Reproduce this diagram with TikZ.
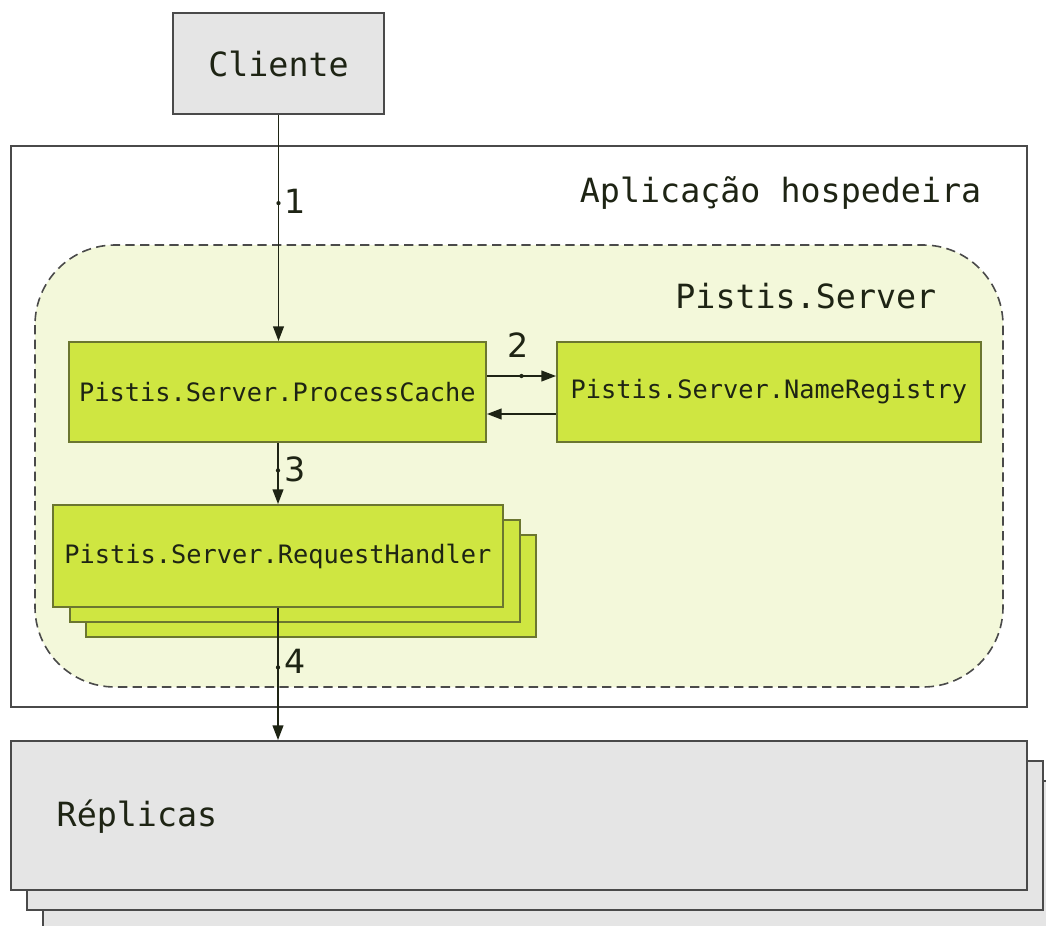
\documentclass[tikz,border=0pt]{standalone}
\usepackage{fontspec}
\setmainfont{DejaVu Sans}
\setmonofont{DejaVu Sans Mono}
\usetikzlibrary{arrows.meta,calc}
\definecolor{boxgray}{HTML}{E5E5E5}
\definecolor{edgegray}{HTML}{4A4A4A}
\definecolor{limefill}{HTML}{CFE641}
\definecolor{limeedge}{HTML}{6B7630}
\definecolor{paleback}{HTML}{F3F8DA}
\definecolor{ink}{HTML}{1E2414}
\tikzset{
  graybox/.style={draw=edgegray, line width=1.4pt, fill=boxgray, inner sep=0pt},
  limebox/.style={draw=limeedge, line width=1.4pt, fill=limefill, inner sep=0pt,
    font=\ttfamily\fontsize{19}{22}\selectfont, text=ink},
  bigtext/.style={font=\ttfamily\fontsize{25}{28}\selectfont, text=ink},
  flow/.style={draw=ink, line width=1.4pt, -{Triangle[length=11pt,width=8pt]}},
  steplabel/.style={font=\fontsize{25}{28}\selectfont, text=ink, anchor=west, inner sep=0pt},
  flowdot/.style={fill=ink, circle, inner sep=0pt, minimum size=3.2pt}
}
\begin{document}
\begin{tikzpicture}[x=0.75pt,y=-0.75pt]
\useasboundingbox (0,0) rectangle (1046,925);

% host application frame
\node[draw=edgegray, line width=1.3pt, fill=white, minimum width=1016*0.75pt,
  minimum height=561*0.75pt, inner sep=0pt] (host) at (519,426.5) {};
\node[bigtext, anchor=east] (hostlbl) at (986,193) {Aplicação hospedeira};

% Pistis.Server region
\draw[draw=edgegray, line width=1.2pt, dash pattern=on 7pt off 4pt, fill=paleback,
  rounded corners=60pt] (35,245) rectangle (1003,687);
\node[bigtext, anchor=east] (srvlbl) at (941,296) {Pistis.Server};

% client
\node[graybox, minimum width=211*0.75pt, minimum height=101*0.75pt,
  font=\ttfamily\fontsize{25}{28}\selectfont, text=ink] (cli) at (278.5,63.5) {Cliente};

% process cache and name registry
\node[limebox, minimum width=417*0.75pt, minimum height=100*0.75pt] (pc) at (277.5,392)
  {Pistis.Server.ProcessCache};
\node[limebox, minimum width=424*0.75pt, minimum height=100*0.75pt] (nr) at (769,392)
  {Pistis.Server.NameRegistry};

% request handler stack
\draw[draw=limeedge, line width=1.4pt, fill=limefill] (86,535) rectangle (536,637);
\draw[draw=limeedge, line width=1.4pt, fill=limefill] (70,520) rectangle (520,622);
\node[limebox, minimum width=450*0.75pt, minimum height=102*0.75pt] (rh) at (278,556)
  {Pistis.Server.RequestHandler};

% replicas stack
\draw[graybox] (43,781) rectangle (1070,960);
\draw[graybox] (27,761) rectangle (1043,910);
\node[graybox, minimum width=1016*0.75pt, minimum height=149*0.75pt] (rep) at (519,815.5) {};
\node[bigtext, anchor=west] (replbl) at (52,817) {Réplicas};

% flows
\draw[flow] (cli.south) -- (cli.south |- pc.north) node[flowdot, pos=0.39] (d1) {};
\node[steplabel] (l1) at (284,201) {1};

\coordinate (pcA) at ($(pc.east)+(0,-16)$);
\coordinate (pcB) at ($(pc.east)+(0,22)$);
\draw[flow] (pcA) -- (pcA -| nr.west) node[flowdot, pos=0.5] (d2) {};
\draw[flow] (pcB -| nr.west) -- (pcB);
\node[steplabel, anchor=center] (l2) at (518,345) {2};

\draw[flow] (rh.north |- pc.south) -- (rh.north) node[flowdot, pos=0.45] (d3) {};
\node[steplabel] (l3) at (284,469) {3};

\draw[flow] (rh.south) -- (rh.south |- rep.north) node[flowdot, pos=0.45] (d4) {};
\node[steplabel] (l4) at (284,661) {4};
\end{tikzpicture}
\end{document}
